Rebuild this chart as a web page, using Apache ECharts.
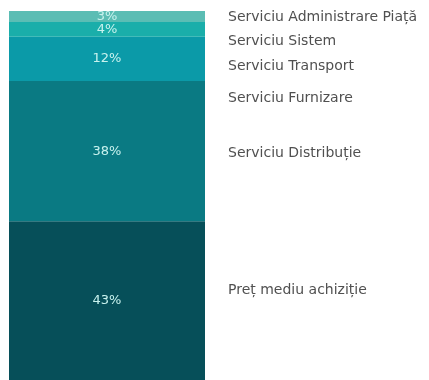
<!DOCTYPE html>
<html>
<head>
<meta charset="utf-8">
<script src="https://cdn.jsdelivr.net/npm/echarts@6/dist/echarts.min.js"></script>
<style>
  html, body { margin: 0; padding: 0; background: #fff; }
  #chart { width: 429px; height: 380px; }
</style>
</head>
<body>
<div id="chart"></div>
<script>
// stack order: bottom first
const names = ['Preț mediu achiziție', 'Serviciu Distribuție', 'Serviciu Furnizare',
               'Serviciu Transport', 'Serviciu Sistem', 'Serviciu Administrare Piață'];
const shares = [43, 38, 0, 12, 4, 3];
const colors = ['#064f59', '#0a7a83', '#0b8c96', '#0b9aa8', '#1aaeaa', '#5bbdb4'];
const category = ['Total'];

const chartDom = document.getElementById('chart');
const myChart = echarts.init(chartDom);

// nudges for the side labels so they don't crowd each other
const labelNudge = [-10, 2, 17, 7, 12, 1];

const barSeries = names.map((name, i) => ({
    name,
    type: 'bar',
    stack: 'total',
    barWidth: '100%',
    xAxisIndex: 0,
    yAxisIndex: 0,
    itemStyle: { color: colors[i] },
    label: {
        show: shares[i] > 0,
        position: 'inside',
        formatter: (p) => p.value + '%',
        color: '#c8f2ee',
        fontFamily: 'DejaVu Sans',
        fontSize: 13
    },
    data: [shares[i]]
}));

const sideSeries = names.map((name, i) => ({
    name,
    type: 'bar',
    stack: 'side',
    barWidth: '100%',
    xAxisIndex: 1,
    yAxisIndex: 1,
    silent: true,
    itemStyle: { color: 'transparent' },
    label: {
        show: true,
        position: 'insideLeft',
        formatter: '{a}',
        color: '#505050',
        fontFamily: 'DejaVu Sans',
        fontSize: 14
    },
    labelLayout: () => ({ dy: labelNudge[i] }),
    data: [shares[i]]
}));

const option = {
    animation: false,
    grid: [
        { left: 9, width: 196, top: 11, bottom: 0 },
        { left: 223, right: 0, top: 11, bottom: 0 }
    ],
    xAxis: [
        { type: 'category', data: category, gridIndex: 0, show: false },
        { type: 'category', data: category, gridIndex: 1, show: false }
    ],
    yAxis: [
        { type: 'value', gridIndex: 0, min: 0, max: 100, show: false },
        { type: 'value', gridIndex: 1, min: 0, max: 100, show: false }
    ],
    series: barSeries.concat(sideSeries)
};

option && myChart.setOption(option);
</script>
</body>
</html>
